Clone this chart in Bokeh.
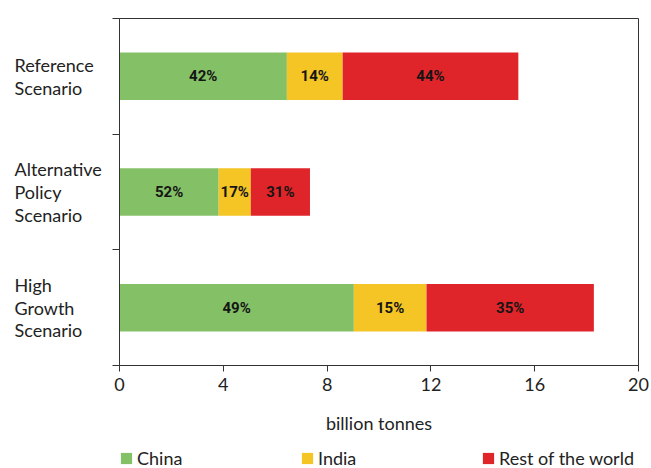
from bokeh.plotting import figure
from bokeh.models import (ColumnDataSource, Range1d, FixedTicker, Legend,
                          LegendItem, LinearAxis)
from bokeh.layouts import column, row
from bokeh.core.properties import value
from bokeh.embed import file_html
from bokeh.resources import INLINE

# Coal demand by scenario, billion tonnes
scenarios = ["Reference\nScenario", "Alternative\nPolicy\nScenario", "High\nGrowth\nScenario"]
china = [6.45, 3.82, 9.03]
india = [2.15, 1.24, 2.80]
rest = [6.77, 2.28, 6.45]
series_names = ["China", "India", "Rest of the world"]
colors = ["#84c166", "#f5c425", "#e0252a"]
x_ticks = [0, 4, 8, 12, 16, 20]

FONT = "Lato"
TXT = "#222222"
LINE = "#333333"
ypos = [i + 0.5 for i in range(len(scenarios))]
stack_keys = ["china", "india", "rest"]

source = ColumnDataSource(dict(y=ypos, china=china, india=india, rest=rest))
y_range = Range1d(len(scenarios), 0)

# ---- main chart ----
p = figure(width=539, height=445, output_backend="svg", toolbar_location=None,
           x_range=Range1d(0, 20), y_range=y_range,
           min_border_left=7, min_border_right=13, min_border_top=18,
           min_border_bottom=80, x_axis_location=None, y_axis_location=None)
p.grid.visible = False
p.outline_line_color = LINE
p.background_fill_color = "white"
p.border_fill_color = "white"

bars = p.hbar_stack(stack_keys, y="y", height=0.41, source=source,
                    color=colors, line_color=None)

# share of each segment, centred in it
lx, ly, lt = [], [], []
for i, y in enumerate(ypos):
    vals = [china[i], india[i], rest[i]]
    total = sum(vals)
    left = 0.0
    for v in vals:
        lx.append(left + v / 2)
        ly.append(y)
        lt.append(f"{round(100 * v / total)}%")
        left += v
p.text(x=lx, y=ly, text=lt, text_align="center", text_baseline="middle",
       text_font=value("Roboto"), text_font_style="bold", text_font_size="15px",
       text_color="#151515")

xaxis = LinearAxis(ticker=FixedTicker(ticks=x_ticks), axis_label="billion tonnes")
xaxis.axis_line_color = LINE
xaxis.major_tick_line_color = LINE
xaxis.major_tick_out = 6
xaxis.major_tick_in = 0
xaxis.minor_tick_line_color = None
xaxis.major_label_text_font = FONT
xaxis.major_label_text_font_size = "18px"
xaxis.major_label_text_color = TXT
xaxis.major_label_standoff = 6
xaxis.axis_label_text_font = FONT
xaxis.axis_label_text_font_size = "18px"
xaxis.axis_label_text_font_style = "normal"
xaxis.axis_label_text_color = TXT
xaxis.axis_label_standoff = 18
p.add_layout(xaxis, "below")

# ticks sit on the boundaries between scenarios
yaxis = LinearAxis(ticker=FixedTicker(ticks=ypos, minor_ticks=list(range(len(scenarios) + 1))))
yaxis.axis_line_color = LINE
yaxis.major_tick_line_color = None
yaxis.major_tick_out = 7
yaxis.major_tick_in = 0
yaxis.major_label_overrides = {y: "" for y in ypos}
yaxis.major_label_standoff = 0
yaxis.minor_tick_line_color = LINE
yaxis.minor_tick_out = 7
yaxis.minor_tick_in = 0
p.add_layout(yaxis, "left")

# ---- scenario names ----
names = figure(width=112, height=445, output_backend="svg", toolbar_location=None,
               x_range=Range1d(0, 112), y_range=y_range,
               min_border_left=0, min_border_right=0, min_border_top=18,
               min_border_bottom=80, x_axis_location=None, y_axis_location=None)
names.grid.visible = False
names.outline_line_color = None
names.text(x=[14] * len(scenarios), y=ypos, text=scenarios, text_align="left",
           text_baseline="middle", text_font=value(FONT), text_font_size="18px",
           text_color=TXT, text_line_height=1.03)

# ---- legend strip ----
leg = figure(width=651, height=23, output_backend="svg", toolbar_location=None,
             x_range=Range1d(0, 1), y_range=Range1d(0, 1),
             min_border=0, x_axis_location=None, y_axis_location=None)
leg.grid.visible = False
leg.outline_line_color = None
swatches = leg.hbar_stack(stack_keys, y="y", height=0.41, source=source,
                          color=colors, line_color=None)
for r in swatches:
    r.visible = False
legend = Legend(items=[LegendItem(label=n, renderers=[r]) for n, r in zip(series_names, swatches)],
                orientation="horizontal", location=(119, -1))
legend.glyph_width = 14
legend.glyph_height = 14
legend.label_standoff = 4
legend.label_width = 150
legend.spacing = 13
legend.padding = 0
legend.margin = 0
legend.border_line_color = None
legend.background_fill_alpha = 0
legend.label_text_font = FONT
legend.label_text_font_size = "18px"
legend.label_text_color = TXT
leg.add_layout(legend, "center")

layout = column(row(names, p), leg)
open("out.html", "w").write(file_html(layout, INLINE))
